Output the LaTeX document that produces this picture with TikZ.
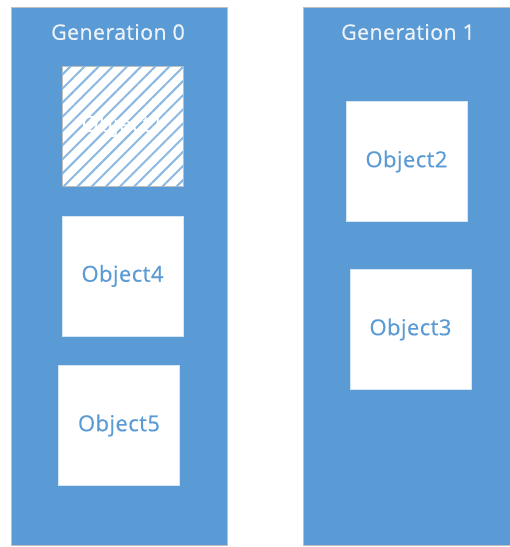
\documentclass[tikz,border=0pt]{standalone}
\usepackage{fontspec}
\setmainfont{Open Sans}[LetterSpace = 2, FakeBold = 0.5]
\usepackage{tikz}
\usetikzlibrary{
  positioning,
  patterns.meta,
}
\definecolor{genblue}{HTML}{5B9BD5}
\definecolor{titlewhite}{HTML}{EEF3FA}
\tikzset{
  gen/.style = {
    rectangle,
    draw = black!25,
    fill = genblue,
    line width = 0.6pt,
    minimum height = 403.5pt,
    inner sep = 0pt
  },
  title/.style = {
    text = titlewhite,
    font = \fontsize{16}{18}\selectfont,
    inner sep = 0pt
  },
  obj/.style = {
    rectangle,
    draw = genblue!25,
    fill = white,
    line width = 0.4pt,
    minimum width = 90.75pt,
    minimum height = 90pt,
    text = genblue,
    font = \fontsize{16.5}{18}\selectfont,
    inner sep = 0pt
  },
  freed/.style = {
    obj,
    draw = black!25,
    text = white,
    postaction = {
      pattern = {Lines[angle = 45, distance = 7.5pt, line width = 1.5pt]},
      pattern color = genblue!70
    }
  },
}

\begin{document}
\begin{tikzpicture}[x = 0.75pt, y = -0.75pt]
  \useasboundingbox (0,0) rectangle (510,547);
  % generations
  \node[gen, minimum width = 162pt] (G0) at (119,276) {};
  \node[gen, minimum width = 156pt] (G1) at (407.5,276) {};
  \node[title] (T0) at (118,32) {Generation 0};
  \node[title] (T1) at (408,32) {Generation 1};
  % objects
  \node[freed] (O1) at (122.5,126) {Object1};
  \node[obj] (O4) at (122.5,276) {Object4};
  \node[obj] (O5) at (119,425.5) {Object5};
  \node[obj] (O2) at (406.5,161.5) {Object2};
  \node[obj] (O3) at (410.5,329.5) {Object3};
\end{tikzpicture}
\end{document}
